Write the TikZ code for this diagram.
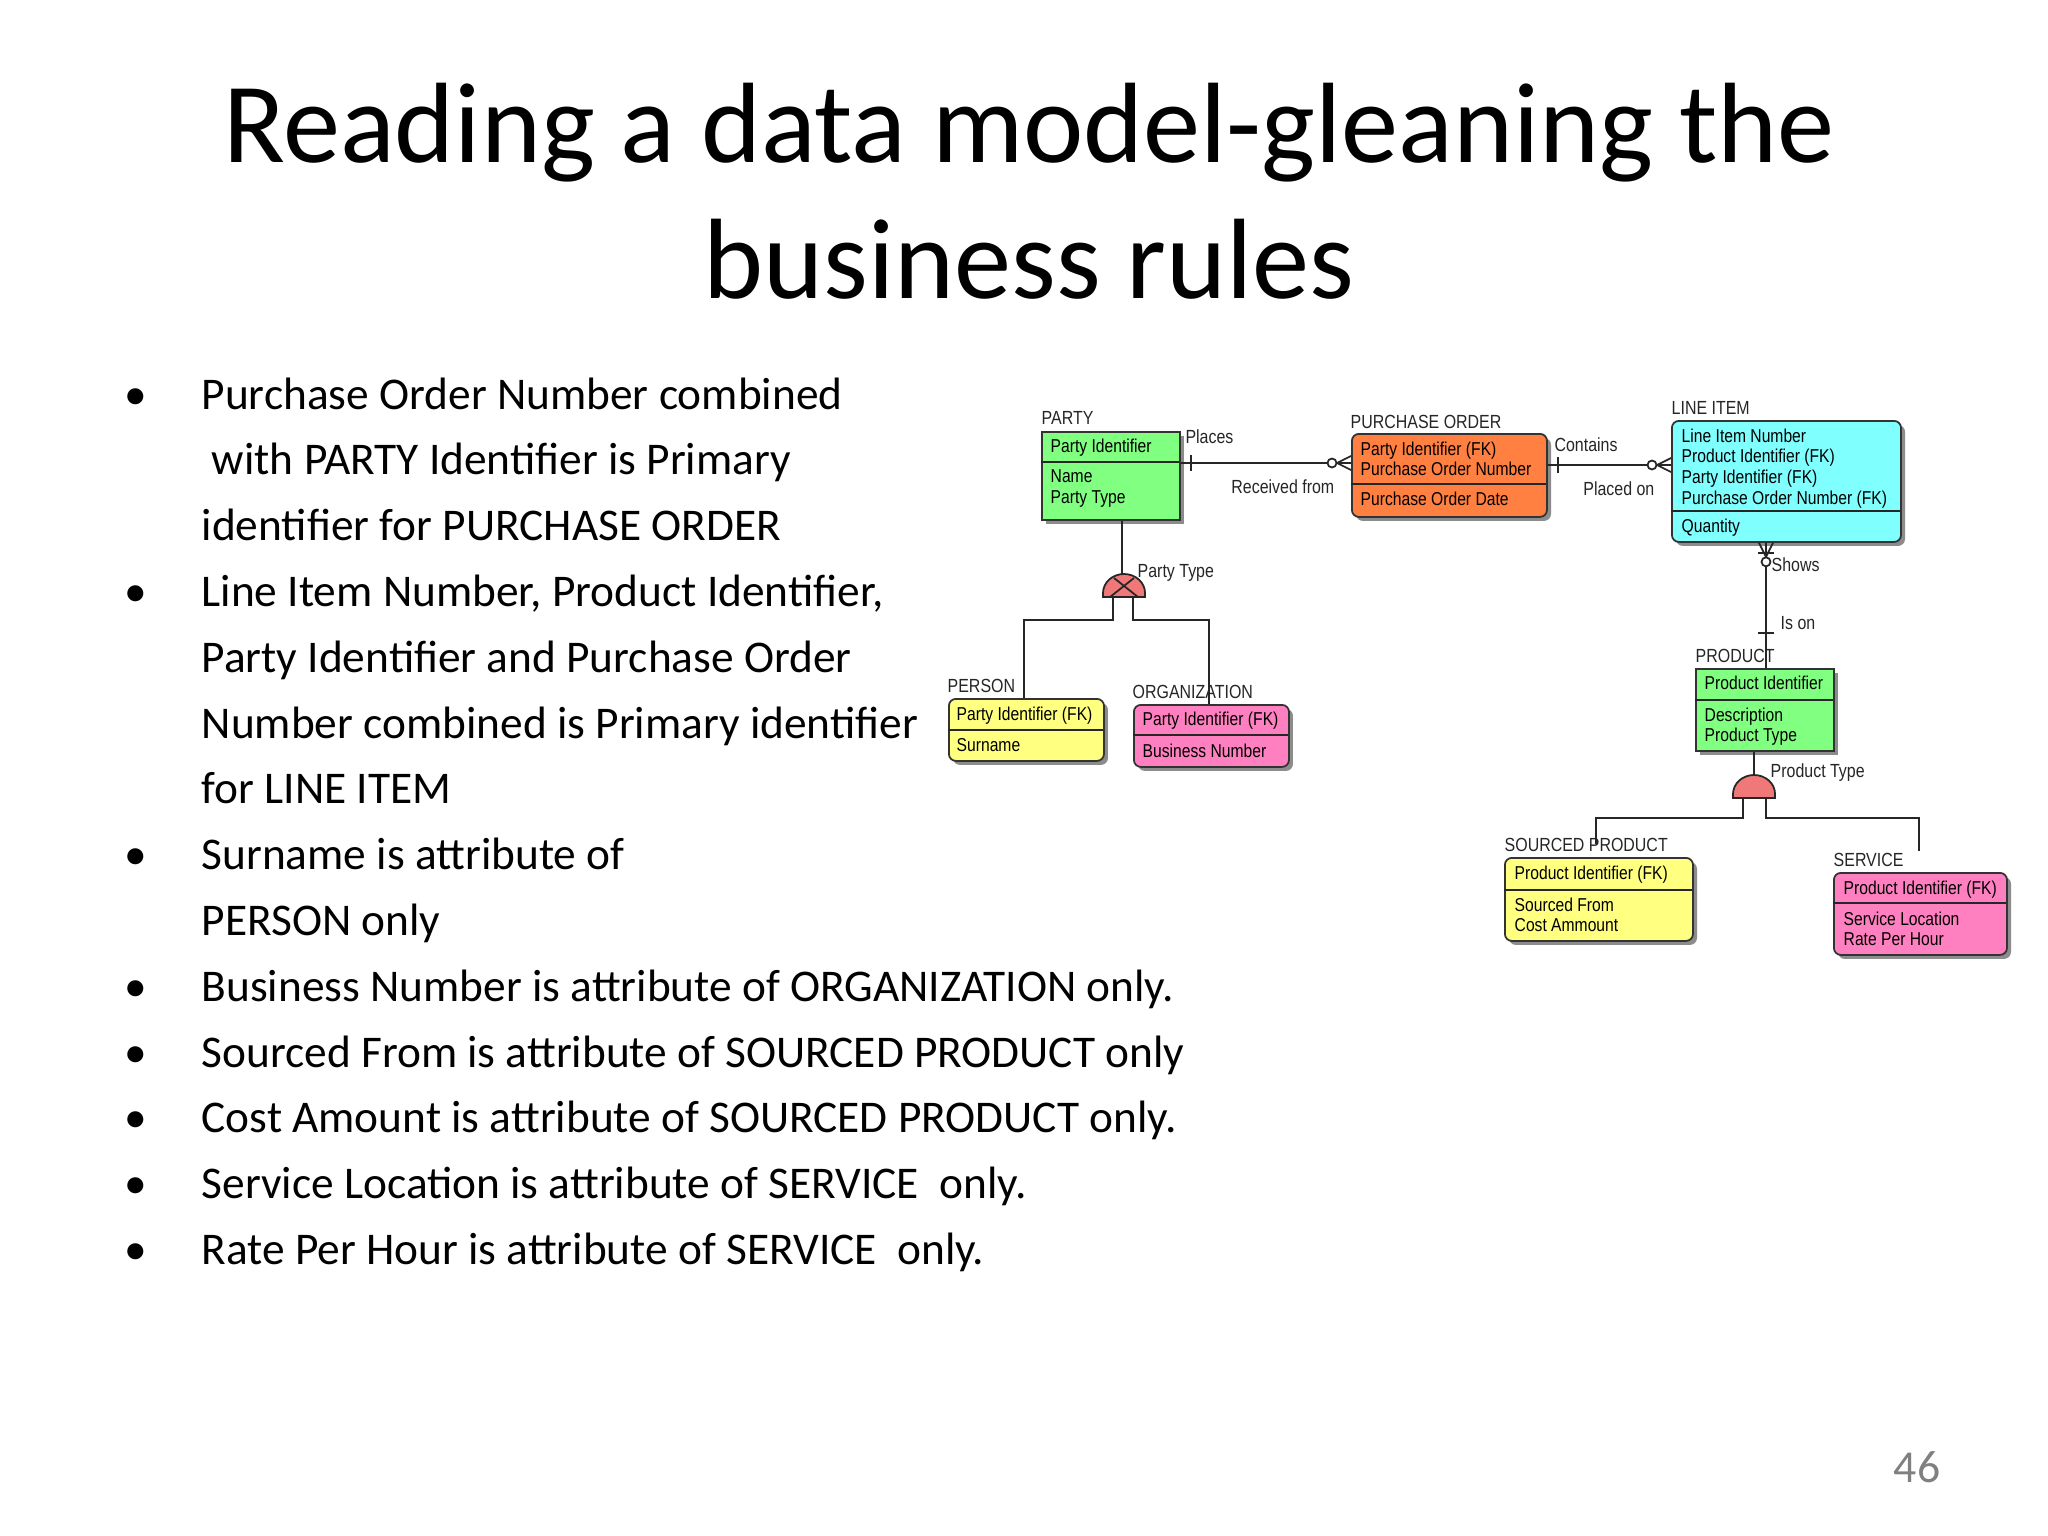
\documentclass[tikz,border=0pt]{standalone}
\usepackage{fontspec}
\setmainfont{Carlito}
\newfontfamily\erfont[FakeStretch=0.84]{Liberation Sans}
\usetikzlibrary{calc,shadows}
\definecolor{egreen}{RGB}{128,255,128}
\definecolor{eorange}{RGB}{255,128,64}
\definecolor{ecyan}{RGB}{128,255,255}
\definecolor{eyellow}{RGB}{255,255,128}
\definecolor{epink}{RGB}{255,128,192}
\definecolor{esalmon}{RGB}{240,120,120}
\tikzset{
  ent/.style={draw=black!80, line width=0.5pt, anchor=north west, inner sep=0pt,
     drop shadow={shadow xshift=0.04cm, shadow yshift=-0.04cm, fill=black!45, opacity=1}},
  rnd/.style={rounded corners=0.07cm},
  etxt/.style={font=\erfont\fontsize{5.3}{5.9}\selectfont, align=left, anchor=north west, inner sep=0pt},
  elab/.style={font=\erfont\fontsize{5.4}{6}\selectfont, anchor=south west, inner sep=0pt, text=black!85},
  rel/.style={line width=0.5pt, black!85},
  bul/.style={font=\fontsize{12.9}{18.8}\selectfont, anchor=base west, inner sep=0pt}
}
\newcommand{\crowL}[1]{%
  \draw[rel] ($(#1)+(-14,0)$) -- ($(#1)+(0,-7)$) ($(#1)+(-14,0)$) -- (#1) ($(#1)+(-14,0)$) -- ($(#1)+(0,7)$);
  \draw[rel, fill=white] ($(#1)+(-19,0)$) circle (0.045cm);}
\begin{document}
\begin{tikzpicture}[x=0.01cm, y=-0.01cm]
\useasboundingbox (0,0) rectangle (2048,1536);
\fill[white] (0,0) rectangle (2048,1536);
% title
\node[font=\fontsize{32.5}{40}\selectfont, anchor=base, inner sep=0pt] (t1) at (1029,162) {Reading a data model-gleaning the};
\node[font=\fontsize{32.5}{40}\selectfont, anchor=base, inner sep=0pt] (t2) at (1029,298) {business rules};
% bullets
\foreach \i/\b/\t in {0/1/{Purchase Order Number combined},1/0/{\ with PARTY Identifier is Primary},2/0/{identifier for PURCHASE ORDER},
 3/1/{Line Item Number, Product Identifier,},4/0/{Party Identifier and Purchase Order},5/0/{Number combined is Primary identifier},6/0/{for LINE ITEM},
 7/1/{Surname is attribute of},8/0/{PERSON only},9/1/{Business Number is attribute of ORGANIZATION only.},
 10/1/{Sourced From is attribute of SOURCED PRODUCT only},11/1/{Cost Amount is attribute of SOURCED PRODUCT only.},
 12/1/{Service Location is attribute of SERVICE\ \ only.},13/1/{Rate Per Hour is attribute of SERVICE\ \ only.}}{
  \node[bul] (l\i) at (201,{409+65.8*\i}) {\t};
  \ifnum\b=1 \node[bul] (b\i) at (124,{409+65.8*\i}) {•};\fi
}
\node[font=\fontsize{13}{15}\selectfont, text=black!50, anchor=base, inner sep=0pt] (pg) at (1917,1482) {46};
% ---------- entities
\node[ent, fill=egreen, minimum width=1.38cm, minimum height=0.88cm] (party) at (1041,431) {};
\draw[rel] (1041,462) -- (1179,462);
\node[elab] (partyl) at (1041,425) {PARTY};
\node[etxt] at (1050,438) {Party Identifier};
\node[etxt] at (1050,469) {Name\\Party Type};

\node[ent, rnd, fill=eorange, minimum width=1.95cm, minimum height=0.83cm] (po) at (1351,433) {};
\draw[rel] (1351,484) -- (1546,484);
\node[elab] (pol) at (1350,429) {PURCHASE ORDER};
\node[etxt] at (1360,441) {Party Identifier (FK)\\Purchase Order Number};
\node[etxt] at (1360,491) {Purchase Order Date};

\node[ent, rnd, fill=ecyan, minimum width=2.29cm, minimum height=1.21cm] (li) at (1671,420) {};
\draw[rel] (1671,511) -- (1900,511);
\node[elab] (lil) at (1671,415) {LINE ITEM};
\node[etxt] at (1681,428) {Line Item Number\\Product Identifier (FK)\\Party Identifier (FK)\\Purchase Order Number (FK)};
\node[etxt] at (1681,518) {Quantity};

\node[ent, fill=egreen, minimum width=1.38cm, minimum height=0.82cm] (prod) at (1695,668) {};
\draw[rel] (1695,700) -- (1833,700);
\node[elab] (prodl) at (1695,663) {PRODUCT};
\node[etxt] at (1704,675) {Product Identifier};
\node[etxt] at (1704,707) {Description\\Product Type};

\node[ent, rnd, fill=eyellow, minimum width=1.55cm, minimum height=0.62cm] (person) at (948,698) {};
\draw[rel] (948,730) -- (1103,730);
\node[elab] (personl) at (947,693) {PERSON};
\node[etxt] at (956,706) {Party Identifier (FK)};
\node[etxt] at (956,738) {Surname};

\node[ent, rnd, fill=epink, minimum width=1.55cm, minimum height=0.62cm] (org) at (1133,704) {};
\draw[rel] (1133,735) -- (1288,735);
\node[elab] (orgl) at (1132,699) {ORGANIZATION};
\node[etxt] at (1142,711) {Party Identifier (FK)};
\node[etxt] at (1142,743) {Business Number};

\node[ent, rnd, fill=eyellow, minimum width=1.88cm, minimum height=0.83cm] (sp) at (1504,857) {};
\draw[rel] (1504,890) -- (1692,890);
\node[elab] (spl) at (1504,852) {SOURCED PRODUCT};
\node[etxt] at (1514,865) {Product Identifier (FK)};
\node[etxt] at (1514,897) {Sourced From\\Cost Ammount};

\node[ent, rnd, fill=epink, minimum width=1.73cm, minimum height=0.82cm] (serv) at (1833,872) {};
\draw[rel] (1833,903) -- (2006,903);
\node[elab] (servl) at (1833,867) {SERVICE};
\node[etxt] at (1843,880) {Product Identifier (FK)};
\node[etxt] at (1843,911) {Service Location\\Rate Per Hour};

% ---------- relationships
\coordinate (pa) at (party.north east |- 0,463);
\coordinate (pb) at (po.west |- 0,463);
\draw[rel] (pa) -- (pb);
\draw[rel] ($(pa)+(10,-8)$) -- ($(pa)+(10,8)$);
\crowL{pb}
\node[elab, anchor=north west] (places) at ($(pa)+(4,-34)$) {Places};
\node[elab, anchor=north east] (recv) at ($(pb)+(-16,16)$) {Received from};

\coordinate (qa) at (po.north east |- 0,465);
\coordinate (qb) at (li.west |- 0,465);
\draw[rel] (qa) -- (qb);
\draw[rel] ($(qa)+(10,-8)$) -- ($(qa)+(10,8)$);
\crowL{qb}
\node[elab, anchor=north west] (cont) at ($(qa)+(6,-28)$) {Contains};
\node[elab, anchor=north east] (placed) at ($(qb)+(-16,16)$) {Placed on};

\coordinate (ra) at (li.south west -| 1766,0);
\coordinate (rb) at (prod.north west -| 1766,0);
\draw[rel] (ra) -- (rb);
\draw[rel] ($(ra)+(0,14)$) -- ($(ra)+(-7,0)$) ($(ra)+(0,14)$) -- (ra) ($(ra)+(0,14)$) -- ($(ra)+(7,0)$);
\draw[rel, fill=white] ($(ra)+(0,19)$) circle (0.045cm);
\draw[rel] ($(ra)+(-8,10)$) -- ($(ra)+(8,10)$);
\draw[rel] ($(rb)+(-8,-35)$) -- ($(rb)+(8,-35)$);
\node[elab, anchor=north west] (shows) at ($(ra)+(5,14)$) {Shows};
\node[elab, anchor=north west] (ison) at ($(rb)+(14,-52)$) {Is on};

% ---------- subtype: party
\coordinate (s1) at (1124,597);
\draw[rel] (party.south -| 1122,0) -- (1122,576);
\draw[rel, fill=esalmon] ($(s1)+(-21,0)$) -- ($(s1)+(-21,-4)$) arc (180:0:0.21cm and 0.19cm) -- ($(s1)+(21,0)$) -- cycle;
\draw[rel] ($(s1)+(-14,0)$) -- ($(s1)+(10,-19)$) ($(s1)+(14,0)$) -- ($(s1)+(-10,-19)$);
\node[elab, anchor=south west] (ptl) at (1137,582) {Party Type};
\draw[rel] (1113,597) -- (1113,620) -- (1024,620) -- (person.north -| 1024,0);
\draw[rel] (1133,597) -- (1133,620) -- (1209,620) -- (org.north -| 1209,0);

% ---------- subtype: product
\coordinate (s2) at (1754,798);
\draw[rel] (prod.south -| 1754,0) -- (1754,778);
\draw[rel, fill=esalmon] ($(s2)+(-21,0)$) -- ($(s2)+(-21,-4)$) arc (180:0:0.21cm and 0.19cm) -- ($(s2)+(21,0)$) -- cycle;
\node[elab, anchor=south west] (prtl) at (1770,782) {Product Type};
\draw[rel] (1743,798) -- (1743,818) -- (1596,818) -- (1596,844);
\draw[rel] (1766,798) -- (1766,818) -- (1919,818) -- (1919,851);
\end{tikzpicture}
\end{document}
